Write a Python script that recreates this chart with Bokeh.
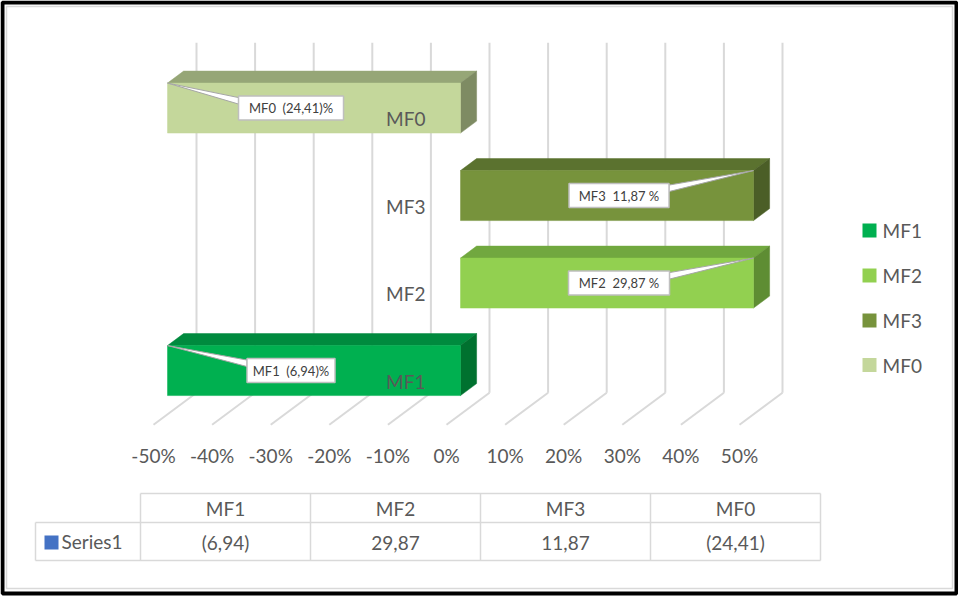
from bokeh.plotting import figure
from bokeh.models import Range1d
from bokeh.core.properties import value
from bokeh.embed import file_html
from bokeh.resources import INLINE

# ---------------- data ----------------
categories = ["MF1", "MF2", "MF3", "MF0"]
values = [-6.94, 29.87, 11.87, -24.41]          # shown as percent (x100) on the axis
table_values = ["(6,94)", "29,87", "11,87", "(24,41)"]
series_name = "Series1"
tick_values = [-0.5, -0.4, -0.3, -0.2, -0.1, 0.0, 0.1, 0.2, 0.3, 0.4, 0.5]
tick_labels = ["-50%", "-40%", "-30%", "-20%", "-10%", "0%", "10%", "20%", "30%", "40%", "50%"]

# ---------------- styles ----------------
front_colors = ["#00B050", "#92D050", "#77933C", "#C4D79B"]
top_colors = ["#008A3E", "#71A83F", "#5B722F", "#96A677"]
side_colors = ["#00712F", "#5E8D33", "#4B5E27", "#7E8B63"]
label_box_w = [88, 101, 100, 105]
FONT = value("Lato")
GRAY = "#595959"
GRID = "#D9D9D9"

W, H = 958, 597
KX = 586.0        # px per 1.0 (100 %)
KY = 87.5         # px per category step
x_start = -0.5 - 153 / KX
y_top = 380.5 / KY
DX, DY = 43 / KX, 32 / KY   # oblique depth vector (full depth)
D0, D1 = 0.326, 0.70        # bar depth span
BH = 25 / KY                # bar half height
vmin, vmax = tick_values[0], tick_values[-1]

p = figure(width=W, height=H, output_backend="svg", toolbar_location=None,
           x_axis_type=None, y_axis_type=None,
           x_range=Range1d(x_start, x_start + W / KX),
           y_range=Range1d(y_top - H / KY, y_top),
           min_border=0, min_border_left=0, min_border_right=0,
           min_border_top=0, min_border_bottom=0)
p.outline_line_color = None
p.background_fill_color = "white"
p.border_fill_color = "white"
p.extra_x_ranges = {"px": Range1d(0, W)}
p.extra_y_ranges = {"py": Range1d(H, 0)}


def P(v, c, d):
    return v + d * DX, c + d * DY


floor_c, wall_c = -0.5, len(categories) - 0.5

# back wall gridlines and floor gridlines
gx, gy = [], []
for t in tick_values:
    x0, y0 = P(t, floor_c, 1)
    x1, y1 = P(t, wall_c, 1)
    gx.append([x0, x1]); gy.append([y0, y1])
    fx0, fy0 = P(t, floor_c, 0)
    gx.append([fx0, x0]); gy.append([fy0, y0])
p.multi_line(gx, gy, line_color=GRID, line_width=2)

# tick labels
p.text([t for t in tick_values], [floor_c - 31 / KY] * len(tick_values), text=tick_labels,
       text_font=FONT, text_font_size="19px", text_color=GRAY,
       text_align="center", text_baseline="middle")

# bars (oblique 3D boxes)
fx, fy, tx, ty, sx, sy = [], [], [], [], [], []
for i, v in enumerate(values):
    e = min(max(v, vmin), vmax)
    lo, hi = min(0, e), max(0, e)
    c = i
    pts = [P(lo, c - BH, D0), P(hi, c - BH, D0), P(hi, c + BH, D0), P(lo, c + BH, D0)]
    fx.append([q[0] for q in pts]); fy.append([q[1] for q in pts])
    pts = [P(lo, c + BH, D0), P(hi, c + BH, D0), P(hi, c + BH, D1), P(lo, c + BH, D1)]
    tx.append([q[0] for q in pts]); ty.append([q[1] for q in pts])
    pts = [P(hi, c - BH, D0), P(hi, c - BH, D1), P(hi, c + BH, D1), P(hi, c + BH, D0)]
    sx.append([q[0] for q in pts]); sy.append([q[1] for q in pts])
p.patches(tx, ty, fill_color=top_colors, line_color=top_colors, line_width=0.5)
p.patches(sx, sy, fill_color=side_colors, line_color=side_colors, line_width=0.5)
p.patches(fx, fy, fill_color=front_colors, line_color=front_colors, line_width=0.5)

# category labels
p.text([0 - 21 / KX] * len(categories), list(range(len(categories))), text=categories,
       text_font=FONT, text_font_size="19px", text_color=GRAY,
       text_align="right", text_baseline="middle")

# data labels (callouts)
bx_list, by_list, lab_txt, wx, wy = [], [], [], [], []
for i, v in enumerate(values):
    e = min(max(v, vmin), vmax)
    mid_v, mid_c = P(e / 2, i, D0)
    s = f"{abs(v):.2f}".replace(".", ",")
    txt = f"{categories[i]}\u00a0 ({s})%" if v < 0 else f"{categories[i]}\u00a0 {s} %"
    bw = label_box_w[i]
    cx, cy = P(e, i + BH, D0)
    if v < 0:
        bx = mid_v - 23 / KX
        ex = bx - (bw / 2) / KX
    else:
        bx = mid_v + 12 / KX
        ex = bx + (bw / 2) / KX
    by = mid_c
    wx.append([cx, ex, ex]); wy.append([cy, by + 10.5 / KY, by + 4 / KY])
    bx_list.append(bx); by_list.append(by); lab_txt.append(txt)
p.patches(wx, wy, fill_color="white", line_color="#A6A6A6", line_width=1)
p.rect(bx_list, by_list, width=label_box_w, height=24, width_units="screen",
       height_units="screen", fill_color="white", line_color="#BFBFBF", line_width=1.5)
p.text(bx_list, by_list, text=lab_txt, text_font=FONT, text_font_size="13px",
       text_color="#404040", text_align="center", text_baseline="middle")

# legend (right)
leg_y = [230, 275, 320, 364.5]
p.rect([869] * 4, leg_y, width=14, height=14, fill_color=front_colors, line_color=None,
       x_range_name="px", y_range_name="py")
p.text([882] * 4, leg_y, text=categories, text_font=FONT, text_font_size="19px",
       text_color=GRAY, text_align="left", text_baseline="middle",
       x_range_name="px", y_range_name="py")

# data table
col_l = [140 + 170 * k for k in range(len(categories) + 1)]
t_top, t_mid, t_bot, t_left = 493, 522, 560, 35
lx = [[col_l[0], col_l[-1]], [t_left, col_l[-1]], [t_left, col_l[-1]], [t_left, t_left]]
ly = [[t_top, t_top], [t_mid, t_mid], [t_bot, t_bot], [t_mid, t_bot]]
for xl in col_l:
    lx.append([xl, xl]); ly.append([t_top, t_bot])
p.multi_line(lx, ly, line_color=GRID, line_width=1.5, x_range_name="px", y_range_name="py")
col_c = [xl + 85 for xl in col_l[:-1]]
p.text(col_c, [(t_top + t_mid) / 2] * 4, text=categories, text_font=FONT, text_font_size="19px",
       text_color=GRAY, text_align="center", text_baseline="middle",
       x_range_name="px", y_range_name="py")
p.text(col_c, [(t_mid + t_bot) / 2 + 1] * 4, text=table_values, text_font=FONT,
       text_font_size="19px", text_color=GRAY, text_align="center", text_baseline="middle",
       x_range_name="px", y_range_name="py")
p.rect([51], [542], width=14, height=14, fill_color="#4472C4", line_color=None,
       x_range_name="px", y_range_name="py")
p.text([61], [541], text=[series_name], text_font=FONT, text_font_size="19px",
       text_color=GRAY, text_align="left", text_baseline="middle",
       x_range_name="px", y_range_name="py")

# chart border
p.quad(left=[6], right=[952], top=[6], bottom=[588], fill_color=None, line_color=GRID,
       line_width=1.5, x_range_name="px", y_range_name="py")
p.quad(left=[2], right=[956], top=[2], bottom=[593], fill_color=None, line_color="black",
       line_width=4, x_range_name="px", y_range_name="py")

open("out.html", "w").write(file_html(p, INLINE))
